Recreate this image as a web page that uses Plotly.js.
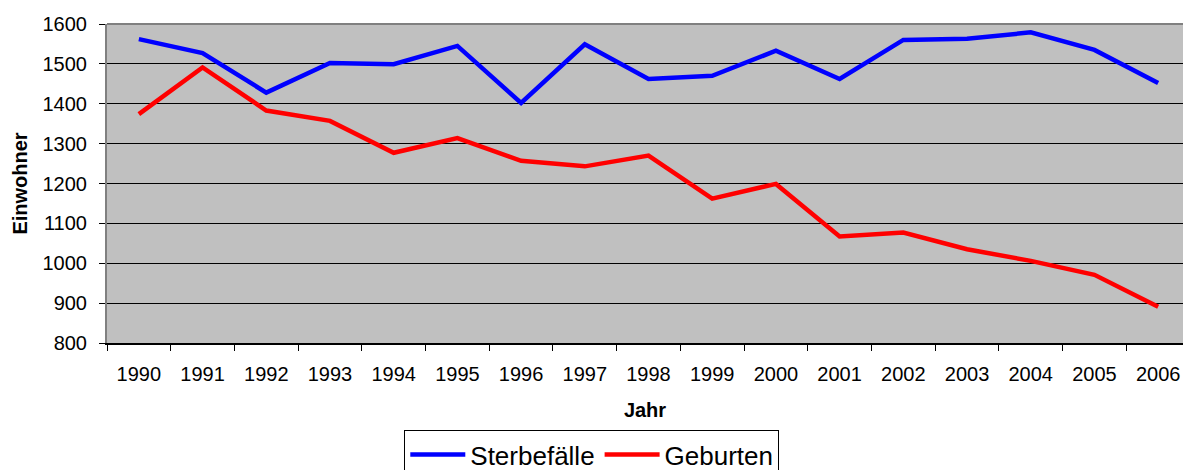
<!DOCTYPE html>
<html>
<head>
<meta charset="utf-8">
<script src="https://cdn.plot.ly/plotly-3.0.1.min.js"></script>
<style>html,body{margin:0;padding:0;background:#fff;}#chart{width:1183px;height:470px;}</style>
</head>
<body>
<div id="chart"></div>
<script>
const years = ["1990","1991","1992","1993","1994","1995","1996","1997","1998","1999","2000","2001","2002","2003","2004","2005","2006"];
const sterbefaelle = [1562, 1527, 1428, 1502, 1499, 1545, 1402, 1549, 1462, 1470, 1533, 1462, 1560, 1563, 1579, 1535, 1452];
const geburten = [1374, 1491, 1383, 1357, 1277, 1314, 1257, 1243, 1270, 1162, 1199, 1067, 1077, 1035, 1006, 971, 891];
const yTicks = [800, 900, 1000, 1100, 1200, 1300, 1400, 1500, 1600];

const FONT = "Arial, 'Liberation Sans', sans-serif";

const traces = [
  {x: years, y: sterbefaelle, name: "Sterbefälle", type: "scatter", mode: "lines",
   line: {color: "#0000FF", width: 4.5}},
  {x: years, y: geburten, name: "Geburten", type: "scatter", mode: "lines",
   line: {color: "#FF0000", width: 4.5}}
];

const layout = {
  width: 1183, height: 470,
  margin: {l: 107, r: 0, t: 24, b: 127, autoexpand: false},
  paper_bgcolor: "#FFFFFF",
  plot_bgcolor: "#C0C0C0",
  font: {family: FONT, color: "#000000", size: 20},
  showlegend: true,
  legend: {
    orientation: "h", x: 0.2763, xanchor: "left", y: -0.2727, yanchor: "top",
    bgcolor: "#FFFFFF", bordercolor: "#000000", borderwidth: 1,
    font: {family: FONT, size: 26, color: "#000000"},
    itemwidth: 55, tracegroupgap: 0
  },
  xaxis: {
    type: "category",
    categoryorder: "array", categoryarray: years,
    range: [-0.5, 16.39],
    tickson: "boundaries",
    ticks: "outside", ticklen: 6, tickwidth: 1, tickcolor: "#000000",
    showgrid: false, zeroline: false,
    showline: true, linecolor: "#000000", linewidth: 2,
    tickfont: {family: FONT, size: 20, color: "#000000"},
    ticklabelstandoff: 12,
    title: {text: "<b>Jahr</b>", font: {family: FONT, size: 20, color: "#000000"}, standoff: 19},
    automargin: false,
    fixedrange: true
  },
  yaxis: {
    range: [800, 1600],
    tickvals: yTicks,
    ticktext: yTicks.map(String),
    ticks: "outside", ticklen: 6, tickwidth: 1, tickcolor: "#000000",
    showgrid: true, gridcolor: "#000000", gridwidth: 1,
    zeroline: false,
    showline: true, linecolor: "#808080", linewidth: 2,
    tickfont: {family: FONT, size: 20, color: "#000000"},
    ticklabelstandoff: 8,
    title: {text: "<b>Einwohner</b>", font: {family: FONT, size: 20, color: "#000000"}, standoff: 10},
    automargin: false,
    fixedrange: true
  },
  shapes: [
    {type: "line", xref: "paper", yref: "paper", x0: 0, x1: 1, y0: 1, y1: 1,
     line: {color: "#808080", width: 2}}
  ]
};

Plotly.newPlot("chart", traces, layout, {staticPlot: true, displayModeBar: false});
</script>
</body>
</html>
